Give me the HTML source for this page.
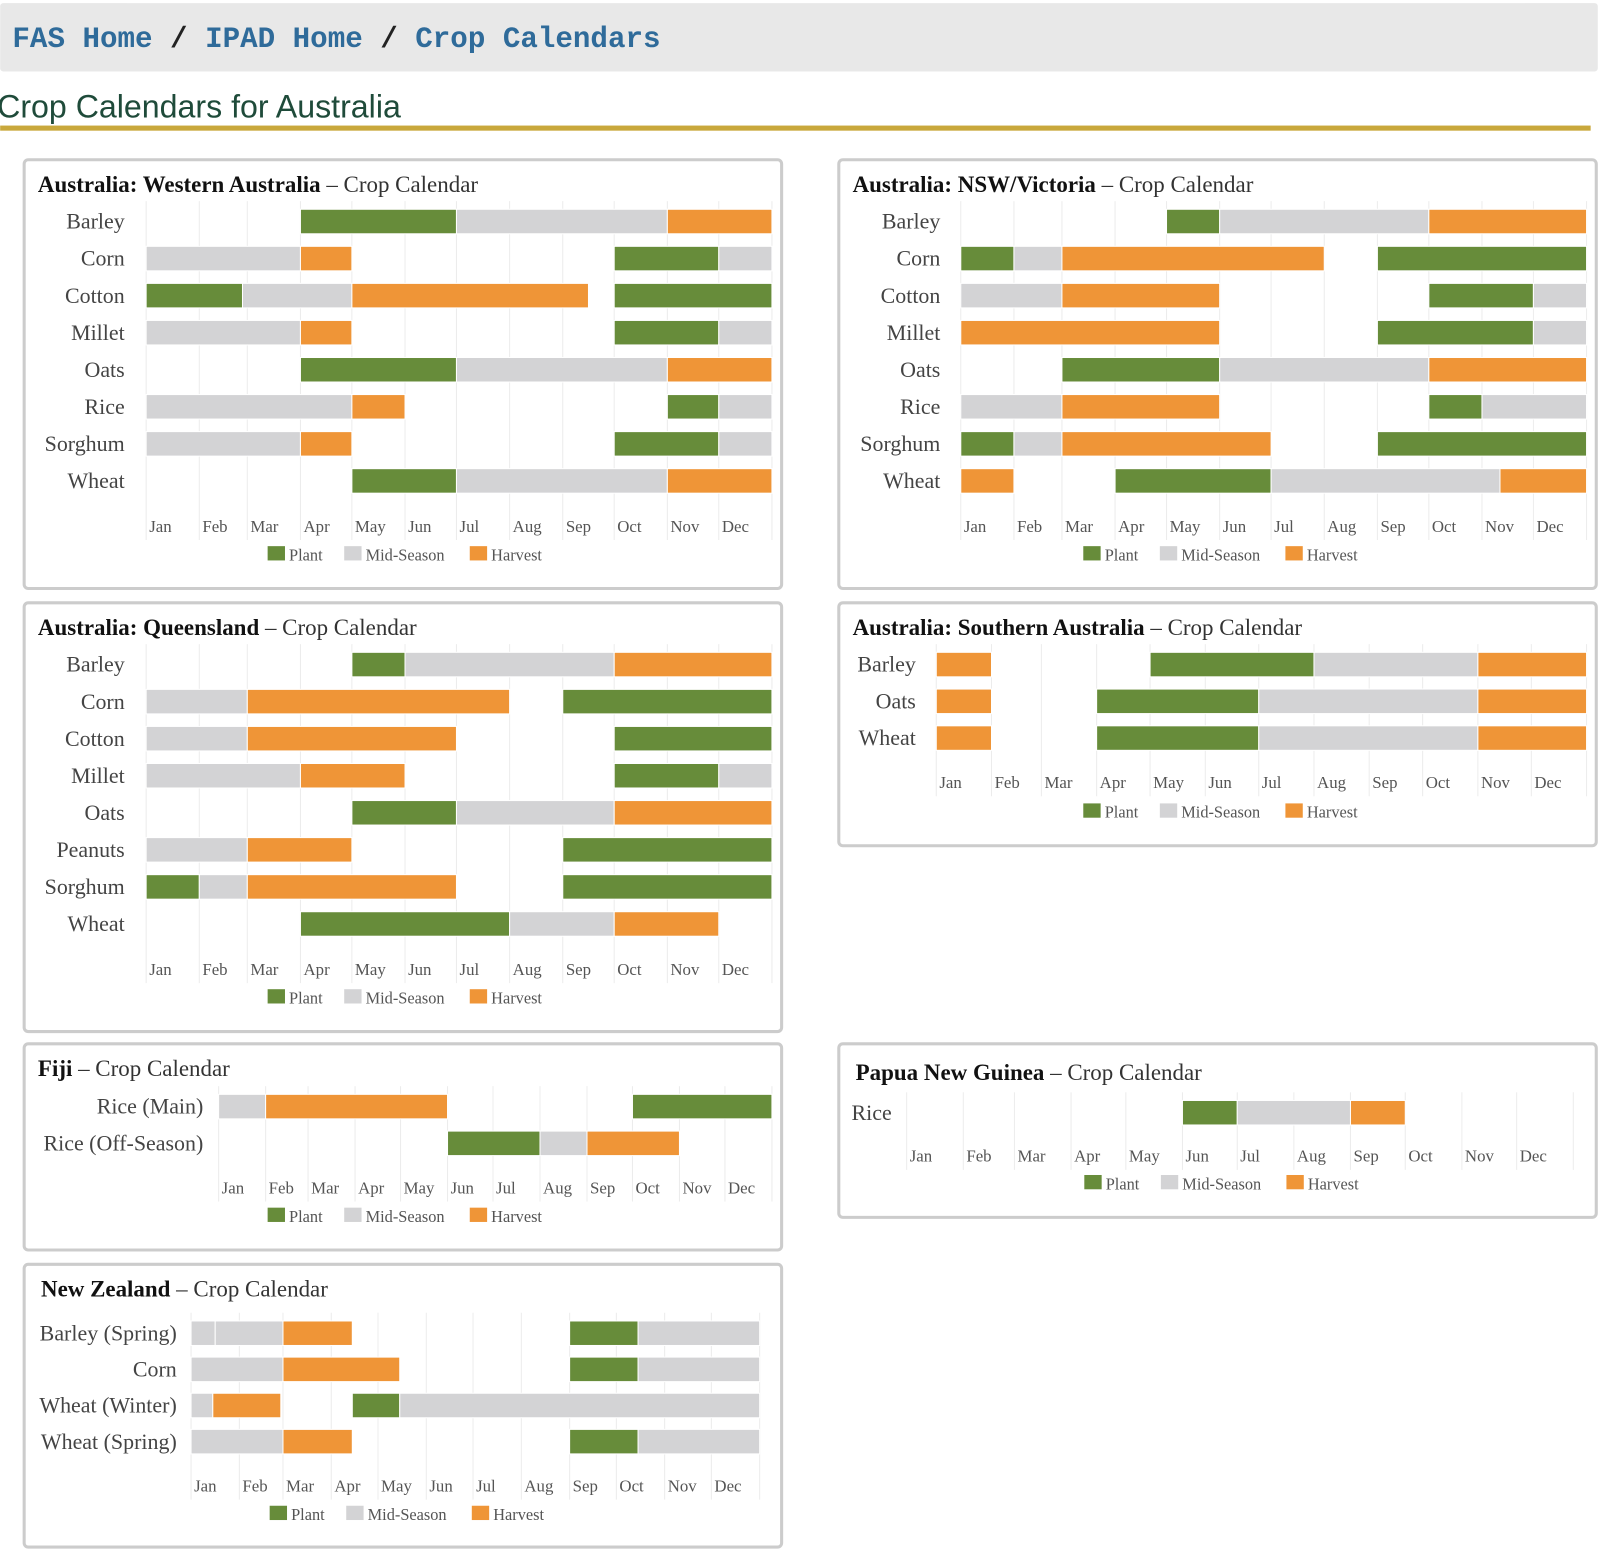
<!DOCTYPE html>
<html><head><meta charset="utf-8"><title>Crop Calendars for Australia</title>
<style>
html,body{margin:0;padding:0;background:#fff;overflow:hidden}
svg{display:block}
</style></head>
<body>
<svg id="page" width="1600" height="1567" viewBox="0 0 1567 1535" xmlns="http://www.w3.org/2000/svg">
<rect x="0" y="3" width="1565" height="67" fill="#e8e8e8" rx="3"/>
<text x="12" y="46" font-family="Liberation Mono, monospace" font-size="28.6" font-weight="bold" fill="#2f6b9a">
<tspan>FAS Home</tspan><tspan fill="#222"> / </tspan><tspan>IPAD Home</tspan><tspan fill="#222"> / </tspan><tspan>Crop Calendars</tspan></text>
<text x="-3" y="115" font-family="Liberation Sans, sans-serif" font-size="31.5" fill="#1f4b3a">Crop Calendars for Australia</text>
<rect x="0" y="123" width="1558" height="5" fill="#c9a83c"/>
<g id="charts"></g>
</svg>
<script>
// ---- data arrays (segments: [startMonth, endMonth, type]; 0=Jan start, 12=Dec end; type P/M/H) ----
const months = ["Jan","Feb","Mar","Apr","May","Jun","Jul","Aug","Sep","Oct","Nov","Dec"];
const legendLabels = ["Plant","Mid-Season","Harvest"];

const waCrops = ["Barley","Corn","Cotton","Millet","Oats","Rice","Sorghum","Wheat"];
const waSegments = [
 [[3,6,"P"],[6,10,"M"],[10,12,"H"]],
 [[0,3,"M"],[3,4,"H"],[9,11,"P"],[11,12,"M"]],
 [[0,1.9,"P"],[1.9,4,"M"],[4,8.5,"H"],[9,12,"P"]],
 [[0,3,"M"],[3,4,"H"],[9,11,"P"],[11,12,"M"]],
 [[3,6,"P"],[6,10,"M"],[10,12,"H"]],
 [[0,4,"M"],[4,5,"H"],[10,11,"P"],[11,12,"M"]],
 [[0,3,"M"],[3,4,"H"],[9,11,"P"],[11,12,"M"]],
 [[4,6,"P"],[6,10,"M"],[10,12,"H"]]
];

const nswCrops = ["Barley","Corn","Cotton","Millet","Oats","Rice","Sorghum","Wheat"];
const nswSegments = [
 [[4,5,"P"],[5,9,"M"],[9,12,"H"]],
 [[0,1,"P"],[1,2,"M"],[2,7,"H"],[8,12,"P"]],
 [[0,2,"M"],[2,5,"H"],[9,11,"P"],[11,12,"M"]],
 [[0,5,"H"],[8,11,"P"],[11,12,"M"]],
 [[2,5,"P"],[5,9,"M"],[9,12,"H"]],
 [[0,2,"M"],[2,5,"H"],[9,10,"P"],[10,12,"M"]],
 [[0,1,"P"],[1,2,"M"],[2,6,"H"],[8,12,"P"]],
 [[0,1,"H"],[3,6,"P"],[6,10.35,"M"],[10.35,12,"H"]]
];

const qldCrops = ["Barley","Corn","Cotton","Millet","Oats","Peanuts","Sorghum","Wheat"];
const qldSegments = [
 [[4,5,"P"],[5,9,"M"],[9,12,"H"]],
 [[0,2,"M"],[2,7,"H"],[8,12,"P"]],
 [[0,2,"M"],[2,6,"H"],[9,12,"P"]],
 [[0,3,"M"],[3,5,"H"],[9,11,"P"],[11,12,"M"]],
 [[4,6,"P"],[6,9,"M"],[9,12,"H"]],
 [[0,2,"M"],[2,4,"H"],[8,12,"P"]],
 [[0,1,"P"],[1,2,"M"],[2,6,"H"],[8,12,"P"]],
 [[3,7,"P"],[7,9,"M"],[9,11,"H"]]
];

const saCrops = ["Barley","Oats","Wheat"];
const saSegments = [
 [[0,1,"H"],[4,7,"P"],[7,10,"M"],[10,12,"H"]],
 [[0,1,"H"],[3,6,"P"],[6,10,"M"],[10,12,"H"]],
 [[0,1,"H"],[3,6,"P"],[6,10,"M"],[10,12,"H"]]
];

const fijiCrops = ["Rice (Main)","Rice (Off-Season)"];
const fijiSegments = [
 [[0,1,"M"],[1,5,"H"],[9,12,"P"]],
 [[5,7,"P"],[7,8,"M"],[8,10,"H"]]
];

const pngCrops = ["Rice"];
const pngSegments = [
 [[5,6,"P"],[6,8,"M"],[8,9,"H"]]
];

const nzCrops = ["Barley (Spring)","Corn","Wheat (Winter)","Wheat (Spring)"];
const nzSegments = [
 [[0,0.5,"M"],[0.5,2,"M"],[2,3.45,"H"],[8,9.45,"P"],[9.45,12,"M"]],
 [[0,2,"M"],[2,4.45,"H"],[8,9.45,"P"],[9.45,12,"M"]],
 [[0,0.45,"M"],[0.45,1.95,"H"],[3.45,4.45,"P"],[4.45,12,"M"]],
 [[0,2,"M"],[2,3.45,"H"],[8,9.45,"P"],[9.45,12,"M"]]
];

// ---- layout ----
const NS="http://www.w3.org/2000/svg";
const colors={P:"#678c3a",M:"#d3d3d5",H:"#ef9537"};
const monthDays=[31,28,31,30,31,30,31,31,30,31,30,31];
const cum=[0];monthDays.forEach(d=>cum.push(cum[cum.length-1]+d));
function monthToFrac(m){const i=Math.min(11,Math.floor(m));return (cum[i]+(m-i)*monthDays[i])/365;}
function el(tag,attrs,parent){const e=document.createElementNS(NS,tag);for(const k in attrs)e.setAttribute(k,attrs[k]);parent.appendChild(e);return e;}

const charts=[
 {id:"western-australia",bold:"Australia: Western Australia",box:[22,155,745,423],x0:143,x1:756,row0:217,step:36.3,labelX:122,monthY:521,legendX:262,legendY:543,crops:waCrops,segs:waSegments},
 {id:"nsw-victoria",bold:"Australia: NSW/Victoria",box:[820,155,745,423],x0:941,x1:1554,row0:217,step:36.3,labelX:921,monthY:521,legendX:1061,legendY:543,crops:nswCrops,segs:nswSegments},
 {id:"queensland",bold:"Australia: Queensland",box:[22,589,745,423],x0:143,x1:756,row0:651,step:36.3,labelX:122,monthY:955,legendX:262,legendY:977,crops:qldCrops,segs:qldSegments},
 {id:"southern-australia",bold:"Australia: Southern Australia",box:[820,589,745,241],x0:917,x1:1554,row0:651,step:36,labelX:897,monthY:772,legendX:1061,legendY:795,crops:saCrops,segs:saSegments},
 {id:"fiji",bold:"Fiji",box:[22,1021,745,205],x0:214,x1:756,row0:1084,step:36,labelX:199,monthY:1169,legendX:262,legendY:1191,crops:fijiCrops,segs:fijiSegments},
 {id:"papua-new-guinea",bold:"Papua New Guinea",box:[820,1021,745,173],x0:888,x1:1541,row0:1090,step:36,labelX:834,labelAnchor:"start",monthY:1138,legendX:1062,legendY:1159,crops:pngCrops,segs:pngSegments,titleY:1058,titleX:838},
 {id:"new-zealand",bold:"New Zealand",box:[22,1237,745,280],x0:187,x1:744,row0:1306,step:35.4,labelX:173,monthY:1461,legendX:264,legendY:1483,crops:nzCrops,segs:nzSegments,titleX:40}
];

const root=document.getElementById("charts");
charts.forEach(c=>{
  const g=el("g",{},root);
  
  
  const [bx,by,bw,bh]=c.box;
  const r=el("rect",{x:bx+1.5,y:by+1.5,width:bw-3,height:bh-3,rx:4,fill:"#fff",stroke:"#cccccc","stroke-width":3},g);
  
  
  const t=el("text",{x:c.titleX||(bx+15),y:c.titleY||(by+33),"font-family":"Liberation Serif, serif","font-size":22.5,fill:"#111"},g);
  
  
  const tb=el("tspan",{"font-weight":"bold"},t);tb.textContent=c.bold;
  const tn=el("tspan",{fill:"#333"},t);tn.textContent=" \u2013 Crop Calendar";
  const W=c.x1-c.x0;
  const xs=m=>c.x0+monthToFrac(m)*W;
  const top=c.row0-20, bot=c.monthY+8;
  for(let i=0;i<=12;i++){
    const x=xs(i);
    const gl=el("line",{x1:x,x2:x,y1:top,y2:bot,stroke:"#ececec","stroke-width":1},g);
    
    
  }
  months.forEach((m,i)=>{
    const mt=el("text",{x:xs(i)+3,y:c.monthY,"font-family":"Liberation Serif, serif","font-size":16.5,fill:"#555"},g);
    
    
    mt.textContent=m;
  });
  c.crops.forEach((crop,ri)=>{
    const cy=c.row0+ri*c.step;
    const lt=el("text",{x:c.labelX,y:cy+7,"text-anchor":c.labelAnchor||"end","font-family":"Liberation Serif, serif","font-size":21.5,fill:"#444"},g);
    
    
    lt.textContent=crop;
    c.segs[ri].forEach(s=>{
      const xa=xs(s[0]),xb=xs(s[1]);
      const b=el("rect",{x:xa,y:cy-12,width:Math.max(0,xb-xa),height:24,fill:colors[s[2]],stroke:"#fff","stroke-width":1},g);
      
      
    });
  });
  const offs=[0,75,198], keys=["P","M","H"];
  keys.forEach((k,i)=>{
    const sw=el("rect",{x:c.legendX+offs[i],y:c.legendY-8,width:17,height:14,fill:colors[k]},g);
    
    
    const lt=el("text",{x:c.legendX+offs[i]+21,y:c.legendY+6,"font-family":"Liberation Serif, serif","font-size":16,fill:"#555"},g);
    
    
    lt.textContent=legendLabels[i];
  });
});
</script>
</body></html>
